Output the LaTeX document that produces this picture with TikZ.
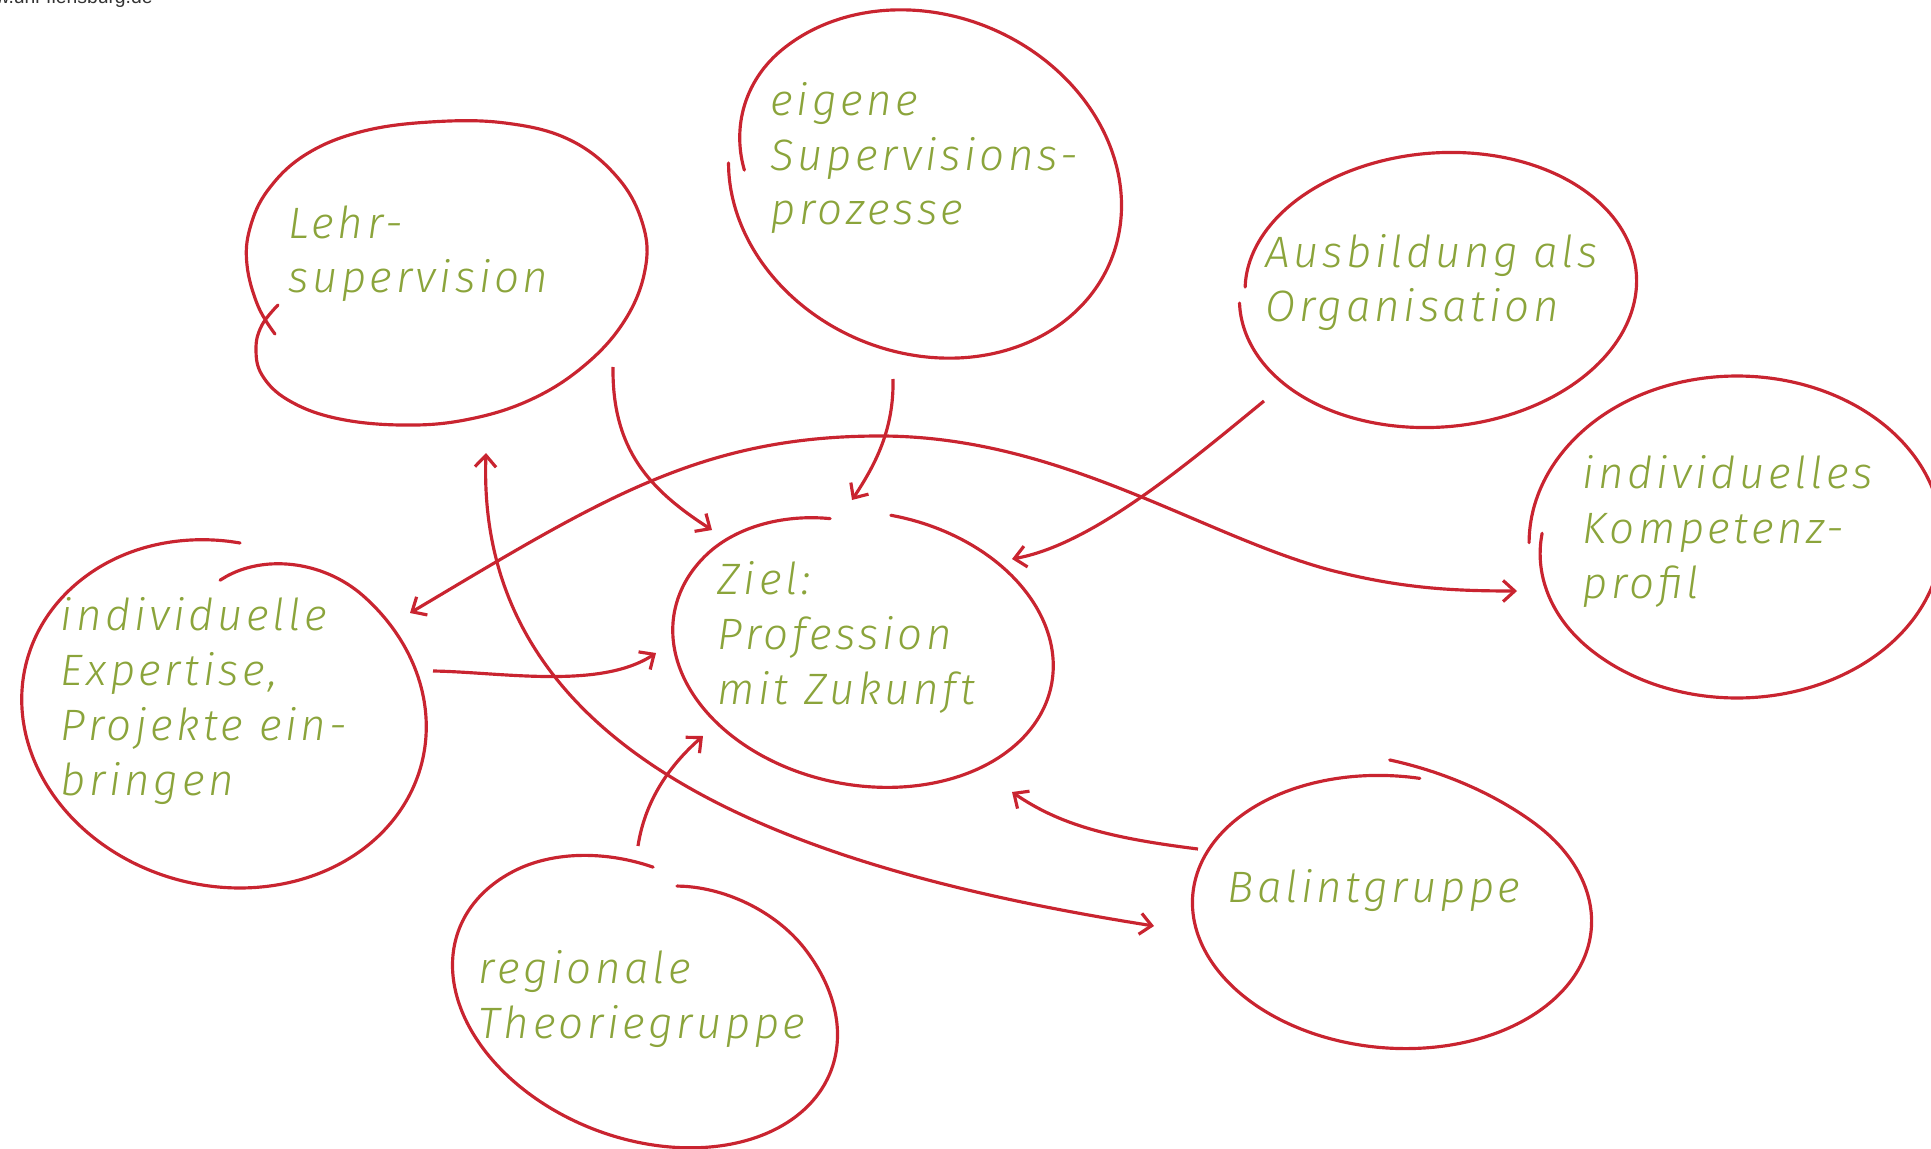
\documentclass[tikz,border=0pt]{standalone}
\usepackage{fontspec}
\usetikzlibrary{arrows.meta}
\newfontfamily\hand{Fira Sans Light Italic}[LetterSpace=8]
\newfontfamily\webfont{Liberation Sans}
\definecolor{penred}{RGB}{201,36,48}
\definecolor{penolive}{RGB}{139,164,59}

\begin{document}
\begin{tikzpicture}[x=0.01cm,y=-0.01cm,
    bubble/.style={penred,line width=0.9pt,line cap=round},
    arr/.style={penred,line width=0.9pt,-{Straight Barb[length=3.3pt,width=6pt]}},
    arrboth/.style={penred,line width=0.9pt,{Straight Barb[length=3.3pt,width=6pt]}-{Straight Barb[length=3.3pt,width=6pt]}},
    handtext/.style={anchor=base west,align=left,inner sep=0pt,text=penolive,
        font=\hand\fontsize{12.5}{15.6}\selectfont}]
    \useasboundingbox (0,0) rectangle (1931,1149);
    \node[anchor=base west,inner sep=0pt,text=black!80,font=\webfont\fontsize{5.5}{6}\selectfont] (web) at (-33,4) {www.uni-flensburg.de};

    \draw[bubble] plot[smooth,tension=0.65] coordinates {(275,334) (258,306) (247,265) (250,228) (268,190) (305,155) (360,132) (430,122) (505,123) (570,140) (618,178) (643,225) (645,270) (625,320) (585,365) (530,400) (465,420) (400,425) (335,418) (288,400) (262,375) (256,348) (262,325) (278,305)};
    \foreach \cx/\cy/\rx/\ry/\rot/\ta/\tb/\sa/\sb in {
        925/184/201/169/22.8/158.4/520.4/0.92/1.0,
        1438/290/199/137/-5/188.5/541.8/0.975/1.0,
        1737/537/205/161/0/178/541.4/1.015/0.951,
        224/713/204/173/14.1/-103.5/262.6/0.76/0.984,
        863/648/192/137/11/-89.4/251.4/0.99/0.93,
        645/1000/199/139/20.7/-93.5/257.8/0.85/0.936,
        1392/912/200/136/5/-94/274.6/1.115/1.0}
        \draw[bubble] plot[domain=\ta:\tb,samples=120,smooth]
            ({\cx+(1-(1-\sa)*max(0,1-(\x-\ta)/45)^2-(1-\sb)*max(0,1-(\tb-\x)/45)^2)*(\rx*cos(\x)*cos(\rot)-\ry*sin(\x)*sin(\rot))},
             {\cy+(1-(1-\sa)*max(0,1-(\x-\ta)/45)^2-(1-\sb)*max(0,1-(\tb-\x)/45)^2)*(\rx*cos(\x)*sin(\rot)+\ry*sin(\x)*cos(\rot))});

    \node[handtext] (lehr) at (288,293) {Lehr-\\supervision};
    \node[handtext] (eigene) at (770,225) {eigene\\Supervisions-\\prozesse};
    \node[handtext] (ausbildung) at (1265,322) {Ausbildung als\\Organisation};
    \node[handtext] (kompetenz) at (1582,598) {individuelles\\Kompetenz-\\profil};
    \node[handtext] (expertise) at (60,795) {individuelle\\Expertise,\\Projekte ein-\\bringen};
    \node[handtext] (ziel) at (717,704) {Ziel:\\Profession\\mit Zukunft};
    \node[handtext] (regional) at (478,1038) {regionale\\Theoriegruppe};
    \node[handtext] (balint) at (1227,902) {Balintgruppe};

    \coordinate (lehr-out) at (613,367);
    \coordinate (lehr-in) at (486,453);
    \coordinate (eigene-out) at (893,379);
    \coordinate (ausbildung-out) at (1264,401);
    \coordinate (expertise-out) at (433,671);
    \coordinate (expertise-in) at (410,613);
    \coordinate (kompetenz-in) at (1517,591);
    \coordinate (regional-out) at (638,846);
    \coordinate (balint-out) at (1198,849);
    \coordinate (balint-in) at (1154,926);
    \coordinate (ziel-nw) at (712,530);
    \coordinate (ziel-n) at (852,500);
    \coordinate (ziel-ne) at (1012,559);
    \coordinate (ziel-w) at (656,653);
    \coordinate (ziel-sw) at (703,736);
    \coordinate (ziel-se) at (1012,792);

    \draw[arr] (lehr-out) .. controls (612,450) and (650,490) .. (ziel-nw);
    \draw[arr] (eigene-out) .. controls (894,430) and (875,465) .. (ziel-n);
    \draw[arr] (ausbildung-out) .. controls (1180,470) and (1090,545) .. (ziel-ne);
    \draw[arr] (expertise-out) .. controls (500,672) and (600,690) .. (ziel-w);
    \draw[arr] (regional-out) .. controls (645,800) and (670,765) .. (ziel-sw);
    \draw[arr] (balint-out) .. controls (1110,838) and (1060,825) .. (ziel-se);
    \draw[arrboth] (expertise-in) .. controls (600,500) and (700,436) .. (880,436) .. controls (1060,436) and (1200,535) .. (1330,570) .. controls (1400,588) and (1450,591) .. (kompetenz-in);
    \draw[arrboth] (lehr-in) .. controls (475,760) and (800,870) .. (balint-in);
\end{tikzpicture}
\end{document}
